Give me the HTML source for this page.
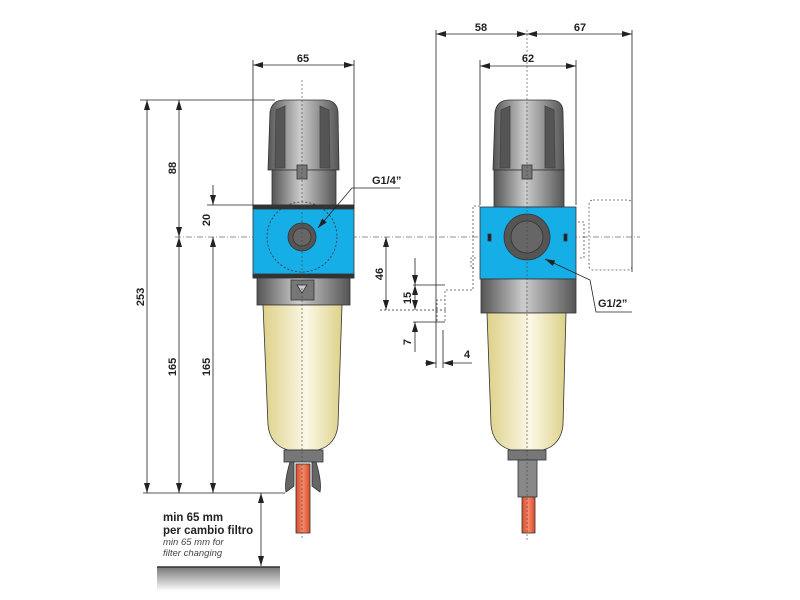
<!DOCTYPE html>
<html><head><meta charset="utf-8"><style>
html,body{margin:0;padding:0;background:#fff}
svg{display:block}
text{font-family:"Liberation Sans",sans-serif;font-weight:bold;font-size:11px;fill:#222}
</style></head><body>
<svg width="800" height="600" viewBox="0 0 800 600" xmlns="http://www.w3.org/2000/svg">
<defs>
<linearGradient id="knob" x1="0" x2="1"><stop offset="0" stop-color="#555"/><stop offset="0.45" stop-color="#ccc"/><stop offset="1" stop-color="#555"/></linearGradient>
<linearGradient id="bowl" x1="0" x2="1"><stop offset="0" stop-color="#ddd188"/><stop offset="0.55" stop-color="#fbf8e6"/><stop offset="1" stop-color="#ddd188"/></linearGradient>
<linearGradient id="red" x1="0" x2="1"><stop offset="0" stop-color="#d94a2a"/><stop offset="0.5" stop-color="#f58a6a"/><stop offset="1" stop-color="#d94a2a"/></linearGradient>
<linearGradient id="gnd" x1="0" x2="0" y1="0" y2="1"><stop offset="0" stop-color="#777"/><stop offset="1" stop-color="#fff"/></linearGradient>
<marker id="a" viewBox="0 0 10 6" refX="10" refY="3" markerWidth="10" markerHeight="6" orient="auto-start-reverse" markerUnits="userSpaceOnUse"><path d="M0,0L10,3L0,6z" fill="#222"/></marker>
</defs>
<g stroke="#222" stroke-width="0.8" fill="none">
<line x1="140" y1="100" x2="275" y2="100"/>
<line x1="207" y1="205" x2="253" y2="205"/>
<line x1="143" y1="493" x2="285" y2="493"/>
<line x1="253" y1="60" x2="253" y2="205"/><line x1="354" y1="60" x2="354" y2="205"/>
<line x1="253" y1="65" x2="354" y2="65" marker-start="url(#a)" marker-end="url(#a)"/>
<line x1="147" y1="100" x2="147" y2="493" marker-start="url(#a)" marker-end="url(#a)"/>
<line x1="179" y1="100" x2="179" y2="237" marker-start="url(#a)" marker-end="url(#a)"/>
<line x1="179" y1="237" x2="179" y2="493" marker-start="url(#a)" marker-end="url(#a)"/>
<line x1="213" y1="185" x2="213" y2="205" marker-end="url(#a)"/>
<line x1="213" y1="237" x2="213" y2="493" marker-start="url(#a)" marker-end="url(#a)"/>
<line x1="261" y1="493" x2="261" y2="566" marker-start="url(#a)" marker-end="url(#a)"/>
<line x1="436" y1="30" x2="436" y2="368"/><line x1="632" y1="30" x2="632" y2="272"/>
<line x1="480" y1="60" x2="480" y2="205"/><line x1="576" y1="60" x2="576" y2="205"/>
<line x1="436" y1="34" x2="527" y2="34" marker-start="url(#a)" marker-end="url(#a)"/>
<line x1="527" y1="34" x2="632" y2="34" marker-start="url(#a)" marker-end="url(#a)"/>
<line x1="480" y1="66" x2="576" y2="66" marker-start="url(#a)" marker-end="url(#a)"/>
<line x1="386" y1="237" x2="386" y2="310" marker-start="url(#a)" marker-end="url(#a)"/>
<line x1="380" y1="310" x2="446" y2="310" stroke-dasharray="2 2"/>
<line x1="413" y1="285" x2="445" y2="285"/>
<line x1="413" y1="322" x2="445" y2="322"/>
<line x1="415" y1="258" x2="415" y2="285" marker-end="url(#a)"/>
<line x1="415" y1="285" x2="415" y2="310" marker-start="url(#a)" marker-end="url(#a)"/>
<line x1="415" y1="322" x2="415" y2="352" marker-start="url(#a)"/>
<line x1="425" y1="363" x2="436" y2="363" marker-end="url(#a)"/>
<line x1="443" y1="363" x2="472" y2="363" marker-start="url(#a)"/>
<line x1="443" y1="330" x2="443" y2="368"/>
<g stroke-dasharray="2 2" stroke="#555">
<rect x="589" y="200" width="43" height="70" rx="4"/>
<path d="M480 206H473V290H445V300L437 300V322H445V300"/>
<path d="M476 258h-5v10h5M578 222h6v36h-6"/>
</g>
<line x1="175" y1="237" x2="640" y2="237" stroke-dasharray="6 2 1 2" stroke-width="0.6"/>
</g>
<rect x="157" y="567" width="123" height="24" fill="url(#gnd)"/>
<line x1="157" y1="567" x2="280" y2="567" stroke="#333" stroke-width="1.5"/>

<!-- LEFT UNIT -->
<g stroke="#333" stroke-width="0.8">
<path d="M268 170L270 112Q272 100 284 100H324Q337 100 338 112L339 170Z" fill="url(#knob)"/>
<path d="M276 110L275 168h10V106zM320 106V168h10L329 110z" fill="#555" stroke="#444"/>
<rect x="272" y="170" width="64" height="35" fill="url(#knob)"/>
<rect x="297" y="165" width="10" height="14" fill="#777"/>
<rect x="253" y="205" width="101" height="73" fill="#16aee6"/>
<rect x="253" y="205" width="101" height="4" fill="#333"/>
<rect x="253" y="274" width="101" height="4" fill="#333"/>
<circle cx="302" cy="237" r="35" fill="none" stroke-dasharray="2 2"/>
<circle cx="302" cy="237" r="14" fill="#555"/><circle cx="302" cy="237" r="9" fill="#666"/>
<rect x="257" y="278" width="93" height="27" fill="url(#knob)"/>
<rect x="291" y="280" width="23" height="20" fill="#777"/>
<path d="M297 285h10l-5 8z" fill="#ccc"/>
<path d="M263 305H342L338 425Q336 445 318 450H288Q270 445 268 425Z" fill="url(#bowl)"/>
<rect x="284" y="450" width="39" height="12" fill="#777"/>
<path d="M290 462q-6 20 -4 30l8 -6v-24zM316 462q6 20 4 30l-8 -6v-24z" fill="#666"/>
<rect x="296" y="464" width="14" height="69" fill="url(#red)"/>
</g>
<line x1="302" y1="80" x2="302" y2="540" stroke="#444" stroke-width="0.6" stroke-dasharray="2 2"/>

<!-- RIGHT UNIT -->
<g stroke="#333" stroke-width="0.8">
<path d="M493 170L495 112Q497 100 509 100H550Q563 100 563 112L564 170Z" fill="url(#knob)"/>
<path d="M501 110L500 168h10V106zM545 106V168h10L554 110z" fill="#555" stroke="#444"/>
<rect x="494" y="170" width="70" height="37" fill="url(#knob)"/>
<rect x="522" y="165" width="10" height="14" fill="#777"/>
<rect x="480" y="207" width="96" height="72" fill="#16aee6"/>
<circle cx="527" cy="237" r="23" fill="#555"/><circle cx="527" cy="237" r="16" fill="#666"/>
<rect x="488" y="234" width="3" height="7" fill="#222"/><rect x="564" y="234" width="3" height="7" fill="#222"/>
<rect x="481" y="279" width="95" height="34" fill="url(#knob)"/>
<path d="M487 313H566L563 425Q561 445 543 450H511Q493 445 491 425Z" fill="url(#bowl)"/>
<rect x="508" y="450" width="38" height="10" fill="#777"/>
<rect x="518" y="460" width="19" height="37" fill="#888"/>
<rect x="522" y="497" width="13" height="36" fill="url(#red)"/>
</g>
<line x1="527" y1="30" x2="527" y2="540" stroke="#444" stroke-width="0.6" stroke-dasharray="2 2"/>

<g stroke="#222" stroke-width="0.8" fill="none">
<path d="M400 188H352L318 228" marker-end="url(#a)"/>
<path d="M632 312H596L590 280L545 259" marker-end="url(#a)"/>
</g>

<text x="303" y="62" text-anchor="middle">65</text>
<text x="481" y="31" text-anchor="middle">58</text>
<text x="580" y="31" text-anchor="middle">67</text>
<text x="528" y="62" text-anchor="middle">62</text>
<text x="372" y="184">G1/4”</text>
<text x="598" y="307">G1/2”</text>
<text transform="translate(144,297) rotate(-90)" text-anchor="middle">253</text>
<text transform="translate(176,168) rotate(-90)" text-anchor="middle">88</text>
<text transform="translate(176,367) rotate(-90)" text-anchor="middle">165</text>
<text transform="translate(210,220) rotate(-90)" text-anchor="middle">20</text>
<text transform="translate(210,367) rotate(-90)" text-anchor="middle">165</text>
<text transform="translate(383,274) rotate(-90)" text-anchor="middle">46</text>
<text transform="translate(411,298) rotate(-90)" text-anchor="middle">15</text>
<text transform="translate(411,342) rotate(-90)" text-anchor="middle">7</text>
<text x="464" y="358">4</text>
<text x="163" y="521" style="font-size:11.5px">min 65 mm</text>
<text x="163" y="534" style="font-size:11.5px">per cambio filtro</text>
<text x="163" y="545" style="font-size:9.5px;font-weight:normal;font-style:italic;fill:#444">min 65 mm for</text>
<text x="163" y="556" style="font-size:9.5px;font-weight:normal;font-style:italic;fill:#444">filter changing</text>
</svg>
</body></html>
